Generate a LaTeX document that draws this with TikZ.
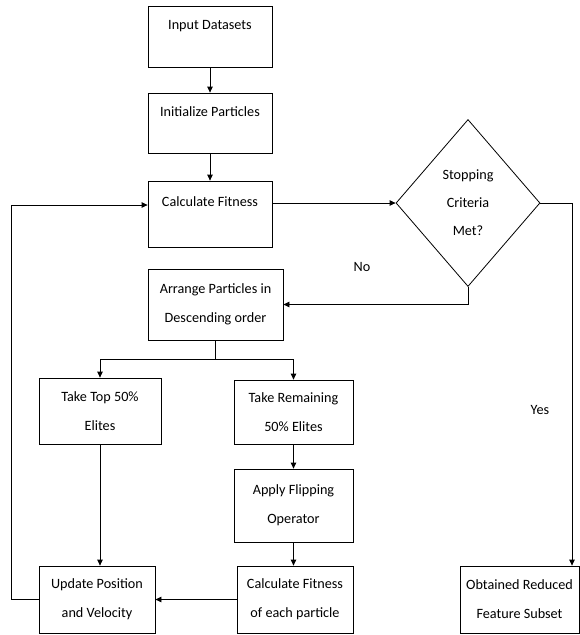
\documentclass[tikz,border=0pt]{standalone}
\usepackage{fontspec}
\setmainfont{Carlito}
\usepackage{tikz}
\usetikzlibrary{arrows.meta,positioning,shapes.geometric}

\begin{document}
\begin{tikzpicture}[x=1pt, y=-1pt,
  box/.style={draw, line width=0.8pt, align=center, inner sep=0pt, font=\fontsize{14.2}{29}\selectfont},
  dec/.style={draw, diamond, aspect=0.86, line width=0.8pt, align=center, inner sep=0pt, font=\fontsize{14.2}{28}\selectfont},
  arr/.style={-{Triangle[length=6pt, width=5.5pt]}, line width=0.8pt},
  lab/.style={font=\fontsize{14.2}{16}\selectfont}]
\useasboundingbox (0,0) rectangle (580,635);
\node[box, minimum width=124, minimum height=61] (in) at (210,36.5) {Input Datasets\\[-6pt]\mbox{}};
\node[box, minimum width=124, minimum height=60] (init) at (210,123) {Initialize Particles\\[-6pt]\mbox{}};
\node[box, minimum width=124, minimum height=66] (calc) at (210,214) {Calculate Fitness\\[-4pt]\mbox{}};
\node[dec, minimum width=144, minimum height=167] (stop) at (468,203) {Stopping\\Criteria\\Met?};
\node[box, minimum width=135, minimum height=71] (arrange) at (215.5,304.5) {Arrange Particles in\\Descending order};
\node[box, minimum width=122, minimum height=66] (top) at (100,411) {Take Top 50\%\\Elites};
\node[box, minimum width=119, minimum height=64] (rem) at (293.5,412) {Take Remaining\\50\% Elites};
\node[box, minimum width=119, minimum height=73] (flip) at (293.5,505.5) {Apply Flipping\\Operator};
\node[box, minimum width=116, minimum height=67] (each) at (295,599.5) {Calculate Fitness\\of each particle};
\node[box, minimum width=116, minimum height=67] (upd) at (97,599.5) {Update Position\\and Velocity};
\node[box, minimum width=119, minimum height=67] (obt) at (519.5,599.5) {Obtained Reduced\\Feature Subset};
\node[lab] (no) at (362,267) {No};
\node[lab] (yes) at (540,410) {Yes};
\coordinate (loopx) at (11,0);
\coordinate (yesx) at (572,0);
\coordinate (calcin) at ([yshift=9pt]calc.west);
% main chain
\draw[arr] (in) -- (init);
\draw[arr] (init) -- (calc);
\draw[arr] (calc.east |- stop.west) -- (stop.west);
\draw[arr] (stop.south) |- (arrange.east);
\draw[arr] (stop.east) -| (yesx |- obt.north);
% split into two halves
\draw (arrange.south) -- ++(0,19) coordinate (split);
\draw[arr] (split) -| (top.north);
\draw[arr] (split) -| (rem.north);
\draw[arr] (top.south) -- (top.south |- upd.north);
\draw[arr] (rem) -- (flip);
\draw[arr] (flip.south) -- (flip.south |- each.north);
\draw[arr] (each) -- (upd);
% back to fitness
\draw[arr] (upd.west) -| (loopx |- calcin) -- (calcin);
\end{tikzpicture}
\end{document}
